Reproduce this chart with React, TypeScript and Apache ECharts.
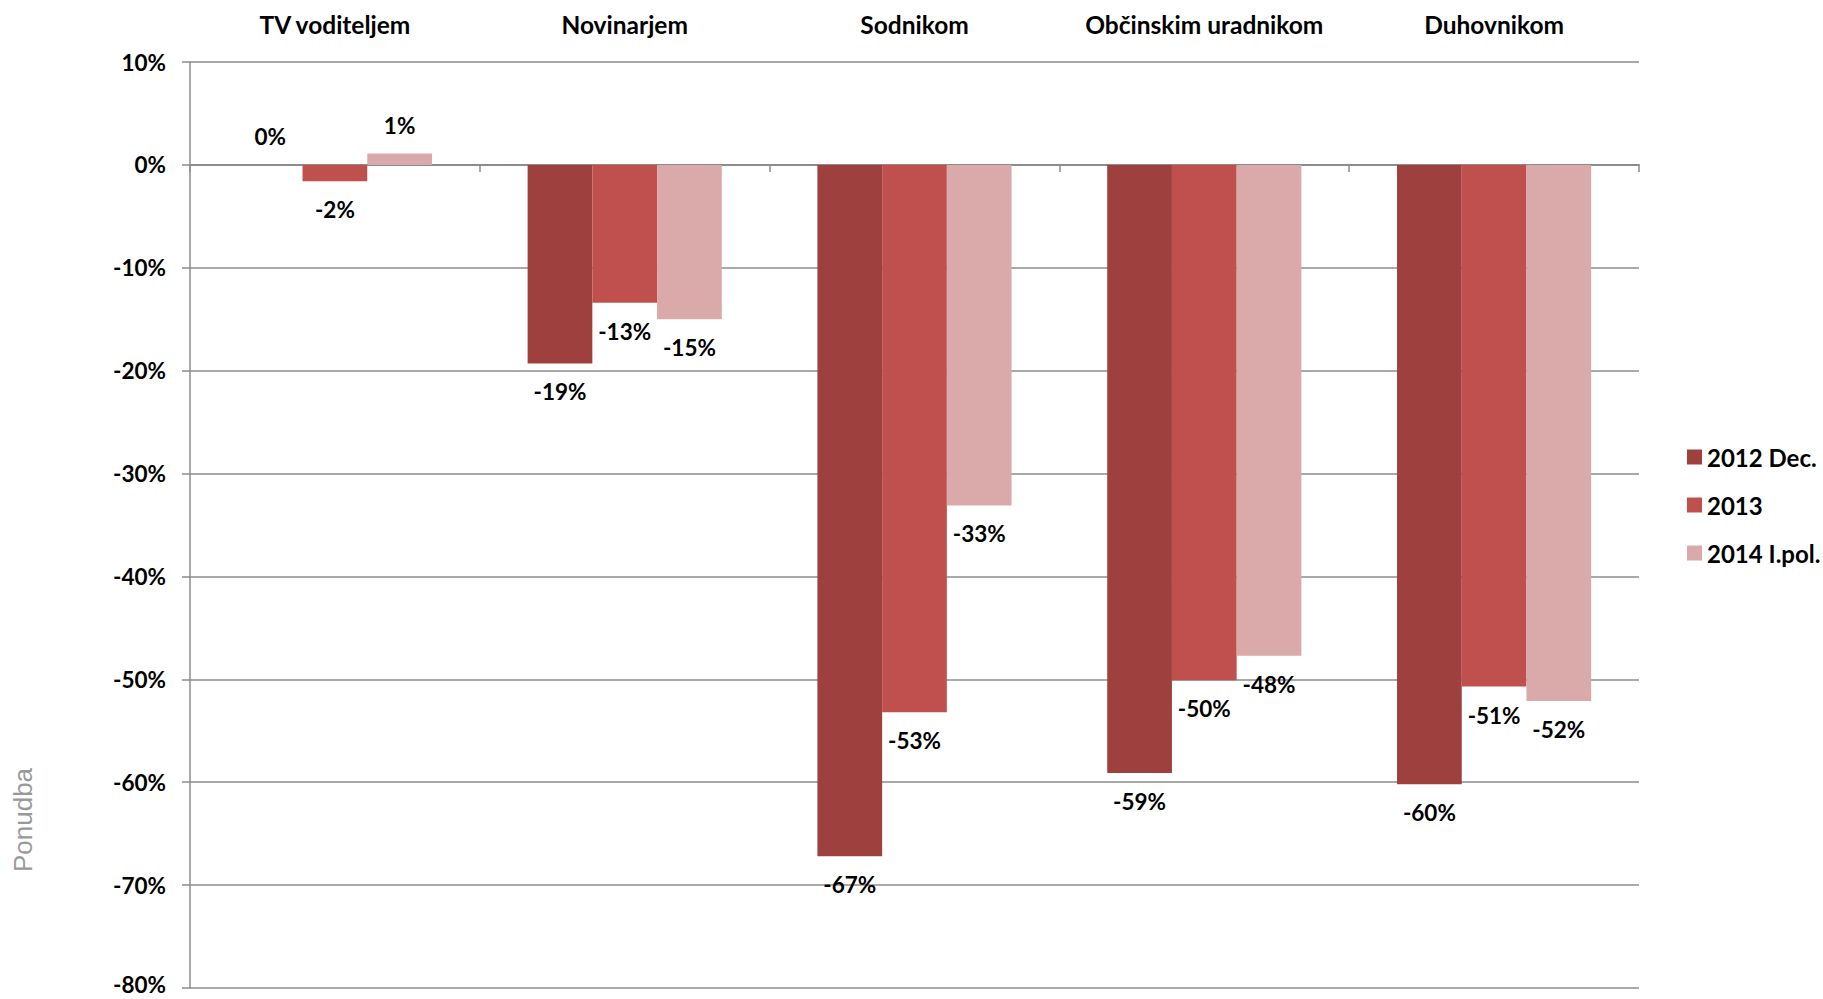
import React, { useEffect, useRef } from "react";
import * as echarts from "echarts";

const categories = ["TV voditeljem", "Novinarjem", "Sodnikom", "Občinskim uradnikom", "Duhovnikom"];
const seriesNames = ["2012 Dec.", "2013", "2014 I.pol."];
const values2012 = [0, -19.3, -67.2, -59.1, -60.2];
const values2013 = [-1.6, -13.4, -53.2, -50.1, -50.7];
const values2014 = [1.1, -15.0, -33.1, -47.7, -52.1];
const seriesColors = ["#9E403D", "#C0504D", "#DAA9A9"];
const yTicks = { min: -80, max: 10, interval: 10 };
const axisTitle = "Ponudba";

const FONT = "Lato, 'Open Sans', sans-serif";

export default function App() {
  const ref = useRef<HTMLDivElement>(null);
  useEffect(() => {
    if (!ref.current) return;
    const chart = echarts.init(ref.current, undefined, { renderer: "svg" });
    const all = [values2012, values2013, values2014];
    const series = all.map((vals, i) => ({
      name: seriesNames[i],
      type: "bar",
      xAxisIndex: 0,
      barGap: "0%",
      barCategoryGap: "33%",
      itemStyle: { color: seriesColors[i] },
      data: vals.map((v) => ({
        value: v,
        label: {
          show: true,
          position: v >= 0 ? "top" : "bottom",
          distance: 17,
          formatter: () => `${Math.round(v)}%`,
          fontFamily: FONT,
          fontWeight: "bold",
          fontSize: 22.5,
          color: "#000",
        },
      })),
    }));
    const tickStyle = { fontFamily: FONT, fontWeight: "bold", fontSize: 22.5, color: "#000", lineHeight: 20 };
    chart.setOption({
      animation: false,
      grid: {
        left: 190,
        right: 184,
        top: 62,
        bottom: 11,
        containLabel: false,
        outerBoundsMode: "none",
      },
      legend: {
        orient: "vertical",
        left: 1682,
        top: 440,
        icon: "rect",
        itemWidth: 15,
        itemHeight: 15,
        itemGap: 24,
        data: seriesNames,
        textStyle: { fontFamily: FONT, fontWeight: "bold", fontSize: 24, color: "#000" },
      },
      xAxis: [
        {
          type: "category",
          data: categories,
          position: "top",
          axisLine: { show: false, onZero: false },
          axisTick: { show: false },
          axisLabel: {
            interval: 0,
            hideOverlap: false,
            margin: 25,
            fontFamily: FONT,
            fontWeight: "bold",
            fontSize: 24.5,
            color: "#000",
          },
        },
        {
          type: "category",
          data: categories,
          position: "bottom",
          axisLine: { show: true, onZero: true, lineStyle: { color: "#8c8c8c", width: 2 } },
          axisTick: { show: true, length: 7, lineStyle: { color: "#8c8c8c", width: 1.5 } },
          axisLabel: { show: false },
        },
      ],
      yAxis: {
        type: "value",
        min: yTicks.min,
        max: yTicks.max,
        interval: yTicks.interval,
        axisLine: { show: true, lineStyle: { color: "#8c8c8c", width: 1.5 } },
        axisTick: { show: true, length: 8, lineStyle: { color: "#8c8c8c", width: 1.5 } },
        splitLine: { show: true, lineStyle: { color: "#8c8c8c", width: 1.5 } },
        axisLabel: {
          margin: 24,
          ...tickStyle,
          formatter: (v: number) => (v === yTicks.min ? `{e|${v}%}` : `{n|${v}%}`),
          rich: {
            n: { ...tickStyle },
            e: { ...tickStyle, padding: [0, 0, 8, 0] },
          },
        },
      },
      graphic: [
        {
          type: "text",
          x: 23,
          y: 820,
          rotation: Math.PI / 2,
          style: {
            text: axisTitle,
            fill: "#999999",
            font: "26px 'Liberation Sans', Arial, sans-serif",
            align: "center",
            verticalAlign: "middle",
          },
        },
      ],
      series,
    });
    return () => chart.dispose();
  }, []);
  return (
    <div
      ref={ref}
      style={{ position: "fixed", left: 0, top: 0, width: 1823, height: 999, background: "#fff" }}
    />
  );
}
